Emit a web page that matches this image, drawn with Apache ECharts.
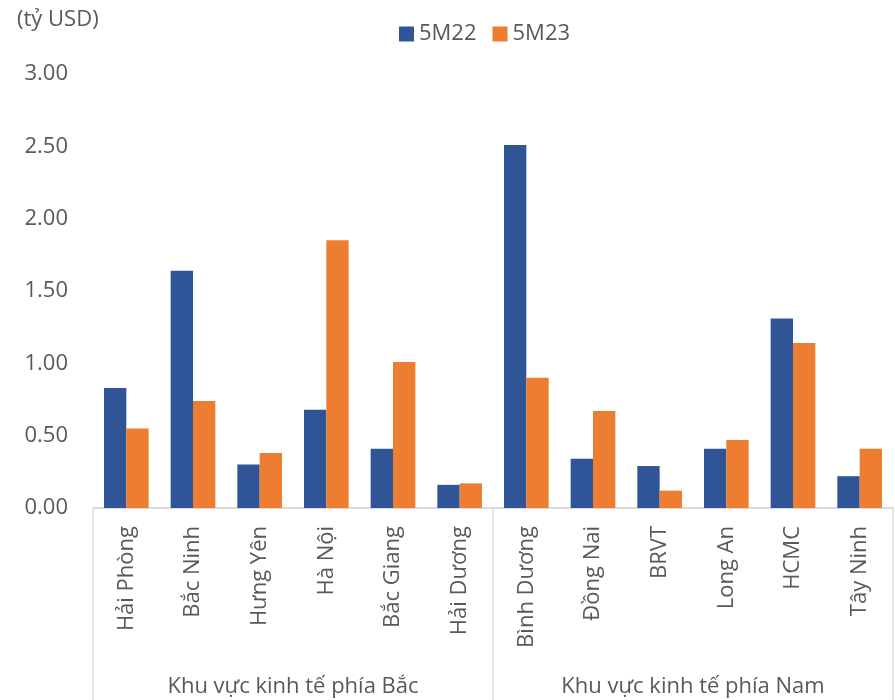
<!DOCTYPE html>
<html>
<head>
<meta charset="utf-8">
<script src="https://cdn.jsdelivr.net/npm/echarts@6/dist/echarts.min.js"></script>
<style>
  html, body { margin: 0; padding: 0; background: #fff; }
  #chart { width: 895px; height: 700px; }
</style>
</head>
<body>
<div id="chart"></div>
<script>
// tỉnh / thành phố
const provinces = ['Hải Phòng', 'Bắc Ninh', 'Hưng Yên', 'Hà Nội', 'Bắc Giang', 'Hải Dương',
  'Bình Dương', 'Đồng Nai', 'BRVT', 'Long An', 'HCMC', 'Tây Ninh'];
const regions = ['Khu vực kinh tế phía Bắc', 'Khu vực kinh tế phía Nam'];
const seriesNames = ['5M22', '5M23'];
const values5M22 = [0.83, 1.64, 0.30, 0.68, 0.41, 0.16, 2.51, 0.34, 0.29, 0.41, 1.31, 0.22];
const values5M23 = [0.55, 0.74, 0.38, 1.85, 1.01, 0.17, 0.90, 0.67, 0.12, 0.47, 1.14, 0.41];
const yTicks = [0, 0.5, 1, 1.5, 2, 2.5, 3];

const FONT = '"Open Sans", "Noto Sans", sans-serif';
const TEXT_COLOR = '#595959';
const LINE_COLOR = '#d9d9d9';

const chart = echarts.init(document.getElementById('chart'));

const option = {
  animation: false,
  textStyle: { fontFamily: FONT },
  title: {
    text: '(tỷ USD)',
    left: 12,
    top: 4,
    textStyle: { fontSize: 22, fontWeight: 'normal', color: TEXT_COLOR, fontFamily: FONT }
  },
  legend: {
    data: seriesNames,
    left: 394,
    top: 18,
    icon: 'rect',
    itemWidth: 15,
    itemHeight: 15,
    itemGap: 16,
    textStyle: { fontSize: 22, color: TEXT_COLOR, fontFamily: FONT }
  },
  grid: { left: 93, right: 2, top: 74, bottom: 192 },
  xAxis: [
    {
      type: 'category',
      data: provinces,
      axisLine: { lineStyle: { color: LINE_COLOR, width: 1.5 } },
      axisTick: { show: false },
      axisLabel: {
        rotate: 90,
        interval: 0,
        margin: 18,
        fontSize: 22,
        color: TEXT_COLOR,
        fontFamily: FONT
      }
    },
    {
      type: 'category',
      data: regions,
      position: 'bottom',
      axisLine: { lineStyle: { color: LINE_COLOR, width: 1.5 } },
      axisTick: { show: true, length: 192, lineStyle: { color: LINE_COLOR, width: 1.5 } },
      axisLabel: {
        interval: 0,
        margin: 168,
        fontSize: 22,
        color: TEXT_COLOR,
        fontFamily: FONT
      }
    }
  ],
  yAxis: {
    type: 'value',
    min: yTicks[0],
    max: yTicks[yTicks.length - 1],
    interval: 0.5,
    axisLine: { show: false },
    axisTick: { show: false },
    splitLine: { show: false },
    axisLabel: {
      margin: 25,
      fontSize: 22,
      color: TEXT_COLOR,
      fontFamily: FONT,
      formatter: v => v.toFixed(2)
    }
  },
  series: [
    {
      name: seriesNames[0],
      type: 'bar',
      data: values5M22,
      barGap: '0%',
      barCategoryGap: '33%',
      itemStyle: { color: '#2F5597' }
    },
    {
      name: seriesNames[1],
      type: 'bar',
      data: values5M23,
      itemStyle: { color: '#ED7D31' }
    }
  ]
};

chart.setOption(option);
</script>
</body>
</html>
